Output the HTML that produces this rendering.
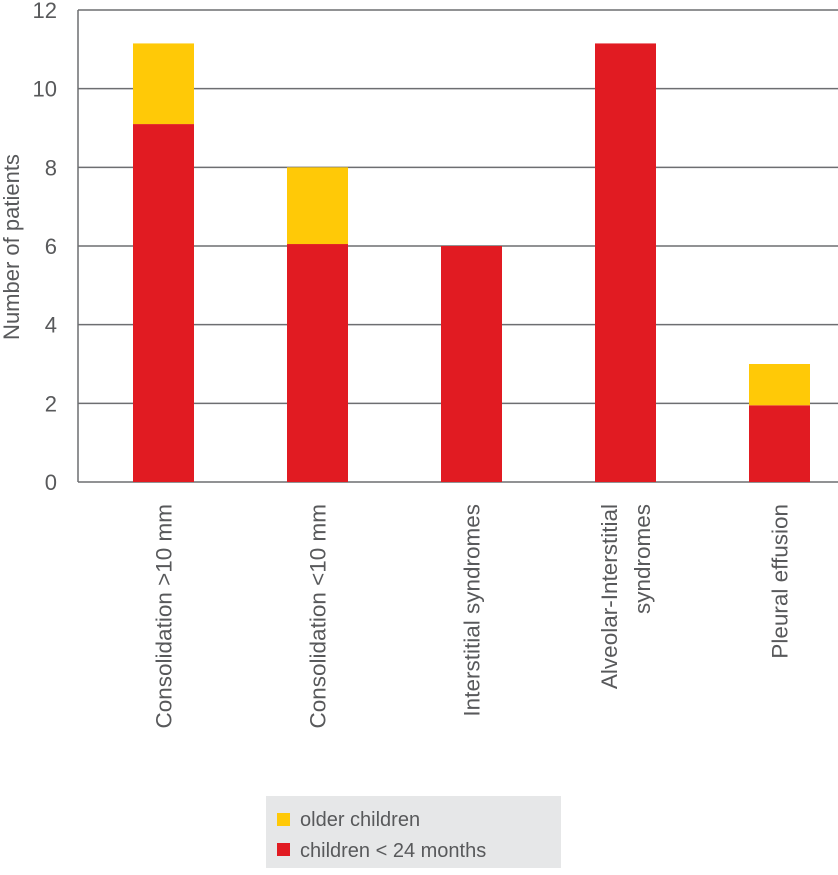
<!DOCTYPE html>
<html><head><meta charset="utf-8"><style>
body{margin:0;background:#fff;font-family:"Liberation Sans",sans-serif}
svg text{font-family:"Liberation Sans",sans-serif;fill:#58595b}
</style></head><body>
<svg width="838" height="870">
<g id="grid"></g><g id="bars"></g><g id="labels"></g>
<text transform="translate(19,247) rotate(-90)" text-anchor="middle" font-size="22">Number of patients</text>
<rect x="266" y="796" width="295" height="72" fill="#e6e7e8"/>
<rect x="277" y="813" width="13" height="13" fill="#ffc907"/>
<text x="300" y="826" font-size="20">older children</text>
<rect x="277" y="843" width="13" height="13" fill="#e11b22"/>
<text x="300" y="857" font-size="20">children &lt; 24 months</text>
</svg>
<script>
const categories=[["Consolidation >10 mm"],["Consolidation <10 mm"],["Interstitial syndromes"],["Alveolar-Interstitial","syndromes"],["Pleural effusion"]];
const under24=[9.1,6.05,6,11.15,1.95];
const older=[2.05,1.95,0,0,1.05];
const ticks=[0,2,4,6,8,10,12];
const NS="http://www.w3.org/2000/svg";
const y0=482,y12=10,xL=78,xR=838;
function y(v){return y0-(y0-y12)*v/12;}
function xc(i){return 163.5+i*154;}
const bw=61;
function mk(t,a,p){const e=document.createElementNS(NS,t);for(const k in a)e.setAttribute(k,a[k]);p.appendChild(e);return e;}
const g=document.getElementById('grid'),b=document.getElementById('bars'),l=document.getElementById('labels');
ticks.forEach(t=>{
 const ln=mk('line',{x1:xL,x2:xR,y1:y(t),y2:y(t),stroke:'#6d6e71','stroke-width':1.5},g);
 
 
 const tx=mk('text',{x:57,y:y(t)+8,'text-anchor':'end','font-size':22},g);
 tx.textContent=t;
 
 
});
const ax=mk('line',{x1:xL,x2:xL,y1:y12,y2:y0,stroke:'#6d6e71','stroke-width':1.5},g);


categories.forEach((c,i)=>{
 const r=mk('rect',{x:xc(i)-bw/2,y:y(under24[i]),width:bw,height:y(0)-y(under24[i]),fill:'#e11b22'},b);
 
 
 if(older[i]>0){
  const tot=under24[i]+older[i];
  const o=mk('rect',{x:xc(i)-bw/2,y:y(tot),width:bw,height:y(under24[i])-y(tot),fill:'#ffc907'},b);
  
  
 }
 c.forEach((line,j)=>{
  const off=(j-(c.length-1)/2)*33+8;
  const t=mk('text',{transform:`translate(${xc(i)+off},504) rotate(-90)`,'text-anchor':'end','font-size':22.5},l);
  t.textContent=line;
  
  
 });
});
</script>
</body></html>
